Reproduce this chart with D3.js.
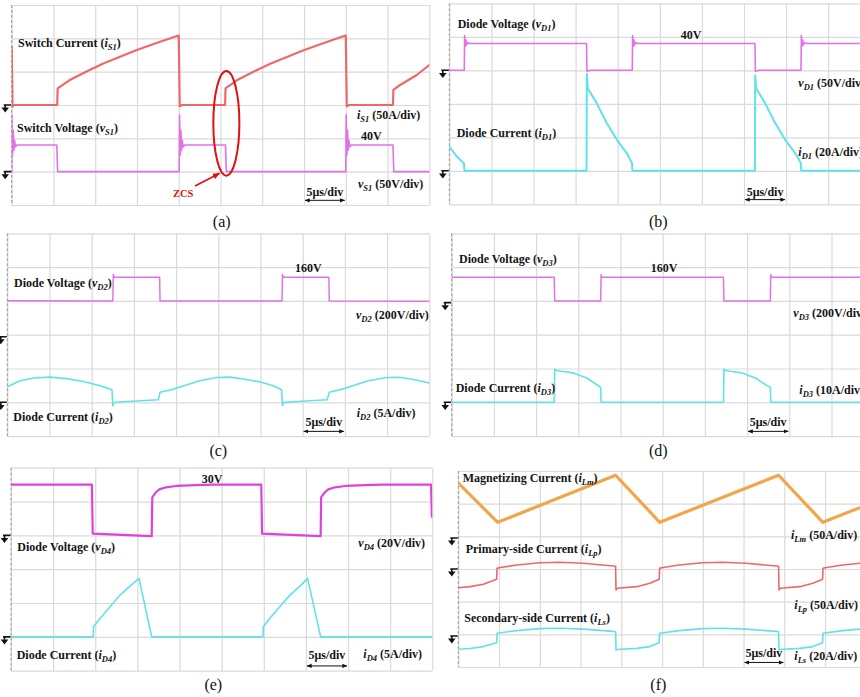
<!DOCTYPE html>
<html>
<head>
<meta charset="utf-8">
<script src="https://cdn.jsdelivr.net/npm/d3@7"></script>
<style>
  body { margin: 0; background: #fff; }
  svg { display: block; }
  text { font-family: "Liberation Serif", "Times New Roman", serif; white-space: pre; }
</style>
</head>
<body>
<svg id="fig" width="860" height="697"></svg>
<script>
// Oscilloscope captures: 10 horizontal divisions of 5 μs, 6 vertical divisions.
const T_DIVS = 10, US_PER_DIV = 5, V_DIVS = 6;

// (a) switch S1: current (A) and voltage (V) vs time (μs)
const iS1 = [[0,87],[0.1,-2],[0.3,0],[5.45,0],[5.5,25],[6.9,37],[8.9,50],[10.9,62],[12.9,72],[14.9,82],[16.9,91],[19.7,103],[20.0,104],[20.12,-2],[20.4,0],[25.55,0],[25.6,25],[26.95,37],[28.95,50],[30.95,62],[32.95,72],[34.95,82],[36.95,91],[39.7,103],[40.0,104],[40.12,-2],[40.4,0],[45.65,0],[45.7,22.5],[46.5,30],[48.5,45],[50,60]];
const vS1 = [[0,0],[0.02,85],[0.1,25],[0.18,62],[0.26,32],[0.34,47],[0.45,37],[0.6,40],[5.4,40],[5.5,0],[20.05,0],[20.1,85],[20.18,25],[20.26,62],[20.34,32],[20.42,47],[20.53,37],[20.7,40],[25.6,40],[25.7,0],[40.0,0],[40.05,85],[40.13,25],[40.21,62],[40.29,32],[40.37,47],[40.48,37],[40.65,40],[45.65,40],[45.75,0],[50,0]];

// (b) diode D1
const vD1 = [[0,0],[1.78,0],[1.82,52],[1.9,36],[1.98,45],[2.06,38],[2.2,41],[2.5,40],[16.3,40],[16.35,-1.5],[16.8,0],[21.73,0],[21.77,52],[21.85,36],[21.93,45],[22.01,38],[22.15,41],[22.5,40],[36.3,40],[36.35,-1.5],[36.8,0],[41.77,0],[41.81,52],[41.89,36],[41.97,45],[42.05,38],[42.2,41],[42.5,40],[50,40]];
const iD1 = [[0,14.5],[0.9,8.5],[1.75,4.4],[1.8,0],[16.3,0],[16.33,58],[16.45,49],[16.6,48],[17.5,40.4],[18.7,28.5],[19.9,18.5],[21.07,10.6],[21.7,4.6],[21.75,0],[36.3,0],[36.33,57],[36.45,49],[36.6,48],[37.5,40.4],[38.7,28.5],[39.9,18.5],[41.07,10.6],[41.75,4.6],[41.8,0],[50,0]];

// (c) diode D2
const vD2 = [[0,21],[12.5,20],[12.56,176],[12.66,160],[18.05,160],[18.1,19],[32.55,20],[32.6,176],[32.7,160],[38.1,160],[38.15,19],[50,18]];
const iD2 = [[0,2.3],[1.5,3.2],[3.1,3.6],[5.1,3.73],[7.0,3.5],[9.0,3.08],[11.0,2.44],[12.4,1.85],[12.5,-0.5],[12.6,-0.1],[12.8,0],[17.9,0.37],[18.1,1.5],[19.7,1.95],[21.3,2.6],[22.8,3.18],[24.8,3.67],[26.4,3.73],[28.0,3.45],[30.0,3.0],[31.5,2.45],[32.5,1.85],[32.6,-0.5],[32.7,-0.1],[32.9,0],[37.9,0.37],[38.15,1.5],[39.7,1.95],[41.3,2.6],[42.8,3.18],[44.9,3.67],[46.4,3.7],[48.0,3.4],[50,2.85]];

// (d) diode D3
const vD3 = [[0,160],[12.15,160],[12.2,19],[17.65,20],[17.7,175],[17.8,160],[32.2,160],[32.25,19],[37.75,20],[37.8,175],[37.9,160],[50,160]];
const iD3 = [[0,0],[12.15,0],[12.2,9.8],[12.35,9.5],[13.0,9.2],[14.4,8.7],[16.0,7.2],[17.2,5.2],[17.65,4.4],[17.7,0],[32.2,0],[32.25,9.8],[32.4,9.5],[33.0,9.2],[34.4,8.7],[36.0,7.2],[37.2,5.2],[37.75,4.4],[37.8,0],[50,0]];

// (e) diode D4
const vD4 = [[0,30],[9.6,30],[9.7,1],[16.7,-0.5],[16.77,22.5],[17.2,25.5],[17.6,27.2],[18.4,28.4],[19.6,29.2],[22,29.7],[24,30],[29.7,30],[29.8,1],[36.75,-0.5],[36.8,22.5],[37.25,25.5],[37.65,27.2],[38.45,28.4],[39.65,29.2],[42,29.7],[44,30],[49.85,30],[49.95,11]];
const iD4 = [[0,0],[9.75,0],[9.8,1.5],[10.56,2.72],[11.75,4.44],[12.94,6.17],[14.12,7.5],[15.19,8.64],[16.7,0],[29.9,0],[29.95,1.5],[30.7,2.72],[31.9,4.44],[33.1,6.17],[34.3,7.5],[35.2,8.64],[36.75,0],[50,0]];

// (f) magnetizing, primary-side and secondary-side currents
const iLm = [[0,84],[4.83,24],[19.3,96],[24.72,24],[39.3,96],[44.73,24],[50,50]];
const iLp = [[0,-28.6],[1.44,-27],[3.07,-23.4],[4.71,-15.8],[4.75,1],[5.0,1.8],[7.15,6.1],[10.0,9.6],[12.5,10.3],[15.3,8.7],[19.0,4.6],[19.3,4.1],[19.35,-32],[19.5,-29.5],[21.9,-27],[23.5,-21.9],[24.65,-15.8],[24.7,1],[24.95,1.8],[27.1,6.1],[30.0,9.6],[32.5,10.3],[35.3,8.7],[39.0,4.6],[39.3,4.1],[39.35,-32],[39.5,-29.5],[41.9,-27],[43.5,-21.9],[44.7,-15.8],[44.75,1],[45.0,1.8],[47.15,6.1],[50,9.6]];
const iLs = [[0,-8.1],[1.44,-7.7],[3.07,-6.5],[4.71,-4.1],[4.75,1.65],[7.15,3.3],[10.0,4.5],[12.5,4.7],[15.3,4.2],[19.0,2.8],[19.3,2.6],[19.35,-8.6],[19.5,-8.3],[21.9,-7.6],[23.5,-6.5],[24.65,-4.1],[24.7,1.65],[27.1,3.3],[30.0,4.5],[32.5,4.7],[35.3,4.2],[39.0,2.8],[39.3,2.6],[39.35,-8.6],[39.5,-8.3],[41.9,-7.6],[43.5,-6.5],[44.7,-4.1],[44.75,1.65],[47.15,3.3],[50,4.5]];

// trace colours
const RED = "#ef6868", MAG = "#e272e6", MAG2 = "#e040e0", CYAN = "#5fe3e8", ORANGE = "#f2a64a";

// label helper: pre + italic variable + italic subscript + post
function rich(g, o) {
  const t = g.append("text")
    .attr("x", o.x).attr("y", o.y)
    .attr("font-size", o.size || 12)
    .attr("font-weight", o.weight || "bold")
    .attr("fill", o.color || "#141414")
    .attr("text-anchor", o.anchor || "start");
  if (o.pre) t.append("tspan").text(o.pre);
  if (o.v) t.append("tspan").attr("font-style", "italic").text(o.v);
  if (o.sub) t.append("tspan").attr("font-style", "italic").attr("font-size", 8.5).attr("dy", 3).text(o.sub);
  if (o.post) t.append("tspan").attr("dy", o.sub ? -3 : 0).text(o.post);
  return t;
}

const panels = [
  { id: "a", x0: 11.7, y0: 5, dx: 41.76, dy: 33.33, title: [221.7, 226.5],
    channels: [
      { data: iS1, perDiv: 50, zero: 3, color: RED, w: 2.2 },
      { data: vS1, perDiv: 50, zero: 5, color: MAG, w: 1.6 }
    ],
    grounds: [3, 5],
    labels: [
      { x: 18, y: 46.5, pre: "Switch Current (", v: "i", sub: "S1", post: ")" },
      { x: 17, y: 132.3, pre: "Switch Voltage (", v: "v", sub: "S1", post: ")" },
      { x: 357, y: 119.3, v: "i", sub: "S1", post: " (50A/div)" },
      { x: 361, y: 140, pre: "40V" },
      { x: 358, y: 188, v: "v", sub: "S1", post: " (50V/div)" },
      { x: 173, y: 197, pre: "ZCS", color: "#e01010", size: 10.5 }
    ],
    scaleY: 195.5 },
  { id: "b", x0: 449.3, y0: 3.3, dx: 42.1, dy: 33.5, title: [658.3, 226.5],
    channels: [
      { data: vD1, perDiv: 50, zero: 2, color: MAG, w: 1.6 },
      { data: iD1, perDiv: 20, zero: 5, color: CYAN, w: 2 }
    ],
    grounds: [2, 5],
    labels: [
      { x: 457.7, y: 28.3, pre: "Diode Voltage (", v: "v", sub: "D1", post: ")" },
      { x: 680.7, y: 39, pre: "40V" },
      { x: 798.3, y: 86.7, v: "v", sub: "D1", post: " (50V/div)" },
      { x: 456.7, y: 137, pre: "Diode Current (", v: "i", sub: "D1", post: ")" },
      { x: 798.3, y: 156, v: "i", sub: "D1", post: " (20A/div)" }
    ],
    scaleY: 195.5 },
  { id: "c", x0: 7.3, y0: 233.3, dx: 42.2, dy: 33.8, title: [218.3, 455.5],
    channels: [
      { data: vD2, perDiv: 200, zero: 2.1, color: MAG, w: 1.5 },
      { data: iD2, perDiv: 5, zero: 5, color: CYAN, w: 1.6 }
    ],
    grounds: [3.06, 5],
    labels: [
      { x: 295, y: 272.3, pre: "160V" },
      { x: 14, y: 287, pre: "Diode Voltage (", v: "v", sub: "D2", post: ")" },
      { x: 356, y: 319, v: "v", sub: "D2", post: " (200V/div)" },
      { x: 13.3, y: 421, pre: "Diode Current (", v: "i", sub: "D2", post: ")" },
      { x: 356.7, y: 417, v: "i", sub: "D2", post: " (5A/div)" }
    ],
    scaleY: 426 },
  { id: "d", x0: 451.7, y0: 233.3, dx: 42.2, dy: 33.8, title: [658.3, 455.5],
    channels: [
      { data: vD3, perDiv: 200, zero: 2.1, color: MAG, w: 1.5 },
      { data: iD3, perDiv: 10, zero: 5, color: CYAN, w: 1.6 }
    ],
    grounds: [2.05, 5],
    labels: [
      { x: 459, y: 263, pre: "Diode Voltage (", v: "v", sub: "D3", post: ")" },
      { x: 650.7, y: 272.3, pre: "160V" },
      { x: 793.3, y: 316.7, v: "v", sub: "D3", post: " (200V/div)" },
      { x: 455.7, y: 392, pre: "Diode Current (", v: "i", sub: "D3", post: ")" },
      { x: 799.3, y: 394, v: "i", sub: "D3", post: " (10A/div)" }
    ],
    scaleY: 426 },
  { id: "e", x0: 11, y0: 467.7, dx: 42.13, dy: 33.83, title: [213.3, 690],
    channels: [
      { data: vD4, perDiv: 20, zero: 2, color: MAG2, w: 2.2 },
      { data: iD4, perDiv: 5, zero: 5, color: CYAN, w: 1.6 }
    ],
    grounds: [2, 5],
    labels: [
      { x: 201.7, y: 483.3, pre: "30V" },
      { x: 17.3, y: 551, pre: "Diode Voltage (", v: "v", sub: "D4", post: ")" },
      { x: 358.3, y: 547, v: "v", sub: "D4", post: " (20V/div)" },
      { x: 16.7, y: 658.5, pre: "Diode Current (", v: "i", sub: "D4", post: ")" },
      { x: 363.3, y: 658, v: "i", sub: "D4", post: " (5A/div)" }
    ],
    scaleY: 659 },
  { id: "f", x0: 458.3, y0: 471, dx: 40.75, dy: 32.67, title: [658.3, 690],
    channels: [
      { data: iLm, perDiv: 50, zero: 2.05, color: ORANGE, w: 3.2 },
      { data: iLp, perDiv: 50, zero: 3, color: RED, w: 1.6 },
      { data: iLs, perDiv: 20, zero: 5.05, color: CYAN, w: 1.6 }
    ],
    grounds: [2.05, 3, 5.05],
    labels: [
      { x: 462.7, y: 482, pre: "Magnetizing Current (", v: "i", sub: "Lm", post: ")" },
      { x: 791, y: 539, v: "i", sub: "Lm", post: " (50A/div)" },
      { x: 465.7, y: 553, pre: "Primary-side Current (", v: "i", sub: "Lp", post: ")" },
      { x: 794.3, y: 608.5, v: "i", sub: "Lp", post: " (50A/div)" },
      { x: 464.3, y: 622, pre: "Secondary-side Current (", v: "i", sub: "Ls", post: ")" },
      { x: 794.3, y: 660, v: "i", sub: "Ls", post: " (20A/div)" }
    ],
    scaleY: 657 }
];

const svg = d3.select("#fig");
const defs = svg.append("defs");
defs.append("marker").attr("id", "ah-k")
  .attr("viewBox", "0 0 8 8").attr("refX", 7.5).attr("refY", 4)
  .attr("markerWidth", 5).attr("markerHeight", 5)
  .attr("orient", "auto-start-reverse")
  .append("path").attr("d", "M0,0.6L8,4L0,7.4Z").attr("fill", "#111");
defs.append("marker").attr("id", "ah-r")
  .attr("viewBox", "0 0 8 8").attr("refX", 7.5).attr("refY", 4)
  .attr("markerWidth", 4.5).attr("markerHeight", 4.5)
  .attr("orient", "auto")
  .append("path").attr("d", "M0,0.6L8,4L0,7.4Z").attr("fill", "#e01010");

panels.forEach(p => {
  const W = T_DIVS * p.dx, H = V_DIVS * p.dy;
  const x = d3.scaleLinear().domain([0, T_DIVS * US_PER_DIV]).range([p.x0, p.x0 + W]);
  const yDiv = d3.scaleLinear().domain([0, V_DIVS]).range([p.y0, p.y0 + H]);
  const g = svg.append("g").attr("class", "panel-" + p.id);

  // graticule
  g.append("g").attr("transform", `translate(0,${p.y0 + H})`)
    .call(d3.axisBottom(x).tickValues(d3.range(0, 51, US_PER_DIV)).tickSize(-H).tickFormat(""))
    .call(s => s.select(".domain").remove())
    .call(s => s.selectAll("line").attr("stroke", "#dadada").attr("stroke-width", 1.2));
  g.append("g").attr("transform", `translate(${p.x0},0)`)
    .call(d3.axisRight(yDiv).tickValues(d3.range(0, V_DIVS + 1)).tickSize(W).tickFormat(""))
    .call(s => s.select(".domain").remove())
    .call(s => s.selectAll("line").attr("stroke", "#dadada").attr("stroke-width", 1.2));
  g.append("line")
    .attr("x1", x(0)).attr("x2", x(0)).attr("y1", yDiv(0)).attr("y2", yDiv(V_DIVS))
    .attr("stroke", "#9a9a9a").attr("stroke-width", 1).attr("stroke-dasharray", "3,2");

  // traces
  const clipId = "clip-" + p.id;
  defs.append("clipPath").attr("id", clipId)
    .append("rect").attr("x", p.x0).attr("y", p.y0 - 6).attr("width", W).attr("height", H + 12);
  const tg = g.append("g").attr("clip-path", `url(#${clipId})`);
  p.channels.forEach(c => {
    const y = d3.scaleLinear().domain([0, c.perDiv]).range([yDiv(c.zero), yDiv(c.zero - 1)]);
    tg.append("path").datum(c.data)
      .attr("d", d3.line().x(d => x(d[0])).y(d => y(d[1])))
      .attr("fill", "none").attr("stroke", c.color)
      .attr("stroke-width", c.w).attr("stroke-linejoin", "round").attr("stroke-linecap", "round");
  });

  // ground reference markers
  p.grounds.forEach(dv => {
    const gx = p.x0 - 0.5, gy = yDiv(dv);
    g.append("path")
      .attr("d", `M${gx - 7.5},${gy}H${gx}M${gx - 6},${gy}V${gy + 3}`)
      .attr("stroke", "#111").attr("stroke-width", 1.6).attr("fill", "none");
    g.append("path")
      .attr("d", `M${gx - 9.8},${gy + 2.6}L${gx - 2.2},${gy + 2.6}L${gx - 6},${gy + 7.6}Z`)
      .attr("fill", "#111");
  });

  // time-base annotation
  g.append("line")
    .attr("x1", x(35) + 1).attr("x2", x(40) - 1)
    .attr("y1", yDiv(5.86)).attr("y2", yDiv(5.86))
    .attr("stroke", "#111").attr("stroke-width", 1)
    .attr("marker-start", "url(#ah-k)").attr("marker-end", "url(#ah-k)");
  rich(g, { x: x(37.5), y: p.scaleY, pre: "5μs/div", anchor: "middle" });

  p.labels.forEach(l => rich(g, l));

  g.append("text").attr("x", p.title[0]).attr("y", p.title[1])
    .attr("text-anchor", "middle").attr("font-size", 16).attr("fill", "#111")
    .text(`(${p.id})`);

  if (p.id === "a") {
    // zero-current switching highlight
    g.append("ellipse")
      .attr("cx", x(25.7)).attr("cy", yDiv(3.55))
      .attr("rx", x(1.56) - x(0)).attr("ry", yDiv(1.57) - yDiv(0))
      .attr("fill", "none").attr("stroke", "#e01010").attr("stroke-width", 2);
    g.append("line")
      .attr("x1", x(21.95)).attr("y1", yDiv(5.43))
      .attr("x2", x(24.9)).attr("y2", yDiv(5.05))
      .attr("stroke", "#e01010").attr("stroke-width", 1.6)
      .attr("marker-end", "url(#ah-r)");
  }
});
</script>
</body>
</html>
